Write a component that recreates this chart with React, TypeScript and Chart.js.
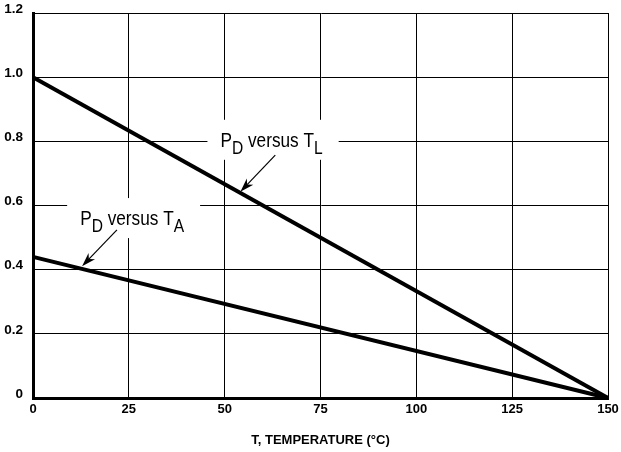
import { useEffect, useRef } from "react";
import { Chart, registerables } from "chart.js";

Chart.register(...registerables);

// ---- data ----
const xTicks = [0, 25, 50, 75, 100, 125, 150];
const yTicks = [0, 0.2, 0.4, 0.6, 0.8, 1.0, 1.2];
const temperature = [0, 150];
const pdVersusTL = [1.0, 0];
const pdVersusTA = [0.44, 0];
const xTitle = "T, TEMPERATURE (°C)";

// annotation labels (text + anchor in data units)
const labelTL = { p: "P", pSub: "D", mid: " versus T", tSub: "L", x: 48.9, y: 0.783, from: [63.2, 0.757], to: [54.1, 0.643] };
const labelTA = { p: "P", pSub: "D", mid: " versus T", tSub: "A", x: 12.3, y: 0.539, from: [21.9, 0.524], to: [12.8, 0.411] };
const annotations = [labelTL, labelTA];

const SANS = "'Liberation Sans', Arial, Helvetica, sans-serif";
const NARROW_SCALE = 0.82;

const annotationPlugin = {
  id: "pdAnnotations",
  beforeDatasetsDraw(chart: any) {
    const ctx = chart.ctx;
    const xs = chart.scales.x;
    const ys = chart.scales.y;
    ctx.save();
    for (const a of annotations) {
      const bx = xs.getPixelForValue(a.x);
      const by = ys.getPixelForValue(a.y);
      const mainFont = `21px ${SANS}`;
      const subFont = `19px ${SANS}`;
      ctx.font = mainFont;
      const wP = ctx.measureText(a.p).width;
      const wMid = ctx.measureText(a.mid).width;
      ctx.font = subFont;
      const wS1 = ctx.measureText(a.pSub).width;
      const wS2 = ctx.measureText(a.tSub).width;
      const total = (wP + wS1 + wMid + wS2) * NARROW_SCALE;
      // white box hiding grid lines
      ctx.fillStyle = "#fff";
      ctx.fillRect(bx - 13, by - 27, total + 29, 40);
      // text (horizontally condensed)
      ctx.save();
      ctx.translate(bx, by);
      ctx.scale(NARROW_SCALE, 1);
      ctx.fillStyle = "#000";
      ctx.textBaseline = "alphabetic";
      ctx.textAlign = "left";
      let cx = 0;
      ctx.font = mainFont;
      ctx.fillText(a.p, cx, 0);
      cx += wP;
      ctx.font = subFont;
      ctx.fillText(a.pSub, cx, 7);
      cx += wS1;
      ctx.font = mainFont;
      ctx.fillText(a.mid, cx, 0);
      cx += wMid;
      ctx.font = subFont;
      ctx.fillText(a.tSub, cx, 7);
      ctx.restore();
      // arrow
      const fx = xs.getPixelForValue(a.from[0]);
      const fy = ys.getPixelForValue(a.from[1]);
      const tx = xs.getPixelForValue(a.to[0]);
      const ty = ys.getPixelForValue(a.to[1]);
      const ang = Math.atan2(ty - fy, tx - fx);
      const len = 14;
      const half = 4.5;
      const ux = Math.cos(ang), uy = Math.sin(ang);
      const px = -uy, py = ux;
      const baseX = tx - ux * len, baseY = ty - uy * len;
      const notchX = tx - ux * len * 0.7, notchY = ty - uy * len * 0.7;
      ctx.fillStyle = "#000";
      ctx.strokeStyle = "#000";
      ctx.lineWidth = 1.2;
      ctx.beginPath();
      ctx.moveTo(fx, fy);
      ctx.lineTo(notchX, notchY);
      ctx.stroke();
      ctx.beginPath();
      ctx.moveTo(tx, ty);
      ctx.lineTo(baseX + px * half, baseY + py * half);
      ctx.lineTo(notchX, notchY);
      ctx.lineTo(baseX - px * half, baseY - py * half);
      ctx.closePath();
      ctx.fill();
    }
    ctx.restore();
  },
};

export default function App() {
  const ref = useRef<HTMLCanvasElement | null>(null);
  useEffect(() => {
    document.body.style.margin = "0";
    const canvas = ref.current;
    if (!canvas) return;
    const chart = new Chart(canvas, {
      type: "line",
      data: {
        datasets: [
          {
            label: "PD versus TL",
            data: temperature.map((t, i) => ({ x: t, y: pdVersusTL[i] })),
            borderColor: "#000",
            borderWidth: 4,
            pointRadius: 0,
            fill: false,
            tension: 0,
            clip: false as any,
          },
          {
            label: "PD versus TA",
            data: temperature.map((t, i) => ({ x: t, y: pdVersusTA[i] })),
            borderColor: "#000",
            borderWidth: 4,
            pointRadius: 0,
            fill: false,
            tension: 0,
            clip: false as any,
          },
        ],
      },
      options: {
        responsive: false,
        animation: false,
        devicePixelRatio: 1,
        layout: { padding: { top: 13, right: 13, left: 0, bottom: 0 } },
        plugins: { legend: { display: false }, tooltip: { enabled: false } },
        scales: {
          x: {
            type: "linear",
            min: 0,
            max: 150,
            afterBuildTicks: (s: any) => {
              s.ticks = xTicks.map((v) => ({ value: v }));
            },
            afterFit: (s: any) => {
              s.height = 54;
              s.paddingLeft = 0;
              s.paddingRight = 0;
            },
            ticks: {
              color: "#000",
              padding: 4,
              maxRotation: 0,
              font: { family: SANS, weight: "bold", size: 13 },
              callback: (v: any) => String(v),
            },
            grid: { color: "#000", lineWidth: 1, drawTicks: false },
            border: { display: true, color: "#000", width: 3 },
            title: {
              display: true,
              text: xTitle,
              color: "#000",
              font: { family: SANS, weight: "bold", size: 13 },
              padding: { top: 0, bottom: 4 },
            },
          },
          y: {
            type: "linear",
            min: 0,
            max: 1.2,
            afterBuildTicks: (s: any) => {
              s.ticks = yTicks.map((v) => ({ value: v }));
            },
            afterFit: (s: any) => {
              s.width = 33;
              s.paddingTop = 0;
              s.paddingBottom = 0;
            },
            ticks: {
              color: "#000",
              padding: 10,
              labelOffset: -4,
              font: { family: SANS, weight: "bold", size: 13.5 },
              callback: (v: any) => (Number(v) === 0 ? "0" : Number(v).toFixed(1)),
            },
            grid: { color: "#000", lineWidth: 1, drawTicks: false },
            border: { display: true, color: "#000", width: 3 },
          },
        },
      },
      plugins: [annotationPlugin],
    });
    return () => chart.destroy();
  }, []);
  return <canvas ref={ref} width={621} height={452} style={{ display: "block" }} />;
}
